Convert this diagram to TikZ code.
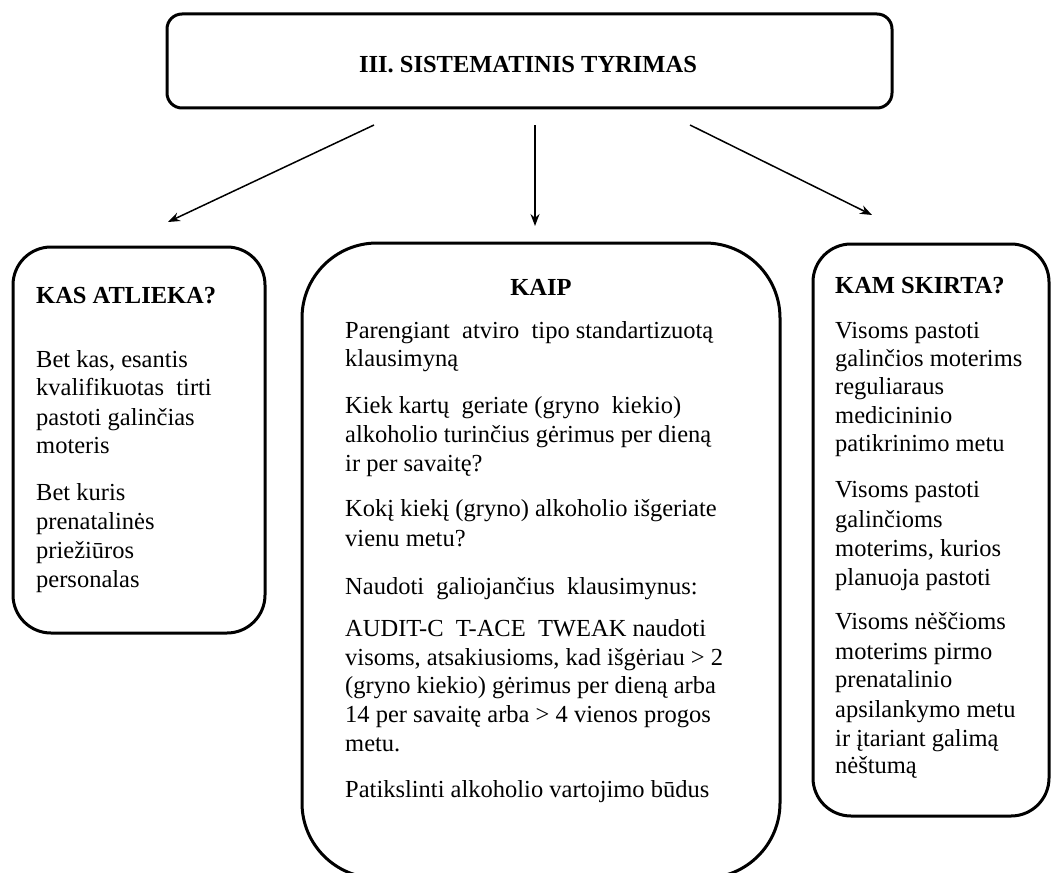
\documentclass[tikz,border=0pt]{standalone}
\usepackage{fontspec}
\setmainfont{Liberation Serif}
\usetikzlibrary{arrows.meta}
\tikzset{
  frame/.style={draw=black, line width=3pt, fill=white, inner sep=0pt},
  txt/.style={anchor=base west, inner sep=0pt, font=\fontsize{24.5}{29}\selectfont},
  head/.style={txt, font=\fontsize{24.5}{29}\selectfont\bfseries},
  link/.style={line width=1.5pt, -{Stealth[length=12pt,width=9pt]}},
}
\begin{document}
\begin{tikzpicture}[x=1pt,y=-1pt]
\useasboundingbox (0,0) rectangle (1051,872);
\clip (0,0) rectangle (1051,872);

% frames
\node[frame, rounded corners=15pt, minimum width=725pt, minimum height=94pt] (top) at (529.5,61) {};
\node[frame, rounded corners=38pt, minimum width=252pt, minimum height=386pt] (who) at (139,440) {};
\node[frame, rounded corners=75pt, minimum width=478pt, minimum height=635pt] (how) at (541,560.5) {};
\node[frame, rounded corners=38pt, minimum width=236pt, minimum height=572pt] (whom) at (931,530) {};

% title
\node[head, anchor=base] (title) at (528,73) {III. SISTEMATINIS TYRIMAS};

% arrows
\coordinate (aL0) at (374,125); \coordinate (aL1) at (168,222);
\coordinate (aM0) at (535,125); \coordinate (aM1) at (535,226);
\coordinate (aR0) at (690,125); \coordinate (aR1) at (872,215);
\draw[link] (aL0) -- (aL1);
\draw[link] (aM0) -- (aM1);
\draw[link] (aR0) -- (aR1);

% left column
\node[head] (whoH) at (36,303) {KAS ATLIEKA?};
\foreach \y/\t [count=\i] in {
  367/{Bet kas, esantis},
  395/{kvalifikuotas\ \ tirti},
  425/{pastoti galinčias},
  453/{moteris},
  500/{Bet kuris},
  529/{prenatalinės},
  558/{priežiūros},
  587/{personalas}}
  \node[txt] (who\i) at (36,\y) {\t};

% middle column
\node[head, anchor=base] (howH) at (541,295) {KAIP};
\foreach \y/\t [count=\i] in {
  338/{Parengiant\ \ atviro\ \ tipo standartizuotą},
  366/{klausimyną},
  413/{Kiek kartų\ \ geriate (gryno\ \ kiekio)},
  442/{alkoholio turinčius gėrimus per dieną},
  471/{ir per savaitę?},
  516/{Kokį kiekį (gryno) alkoholio išgeriate},
  546/{vienu metu?},
  594/{Naudoti\ \ galiojančius\ \ klausimynus:},
  636/{AUDIT-C\ \ T-ACE\ \ TWEAK naudoti},
  665/{visoms, atsakiusioms, kad išgėriau > 2},
  693/{(gryno kiekio) gėrimus per dieną arba},
  722/{14 per savaitę arba > 4 vienos progos},
  751/{metu.},
  797/{Patikslinti alkoholio vartojimo būdus}}
  \node[txt] (how\i) at (345,\y) {\t};

% right column
\node[head] (whomH) at (835,293) {KAM SKIRTA?};
\foreach \y/\t [count=\i] in {
  338/{Visoms pastoti},
  366/{galinčios moterims},
  394/{reguliaraus},
  423/{medicininio},
  451/{patikrinimo metu},
  497/{Visoms pastoti},
  527/{galinčioms},
  556/{moterims, kurios},
  585/{planuoja pastoti},
  629/{Visoms nėščioms},
  659/{moterims pirmo},
  687/{prenatalinio},
  717/{apsilankymo metu},
  746/{ir įtariant galimą},
  773/{nėštumą}}
  \node[txt] (whom\i) at (835,\y) {\t};
\end{tikzpicture}
\end{document}
